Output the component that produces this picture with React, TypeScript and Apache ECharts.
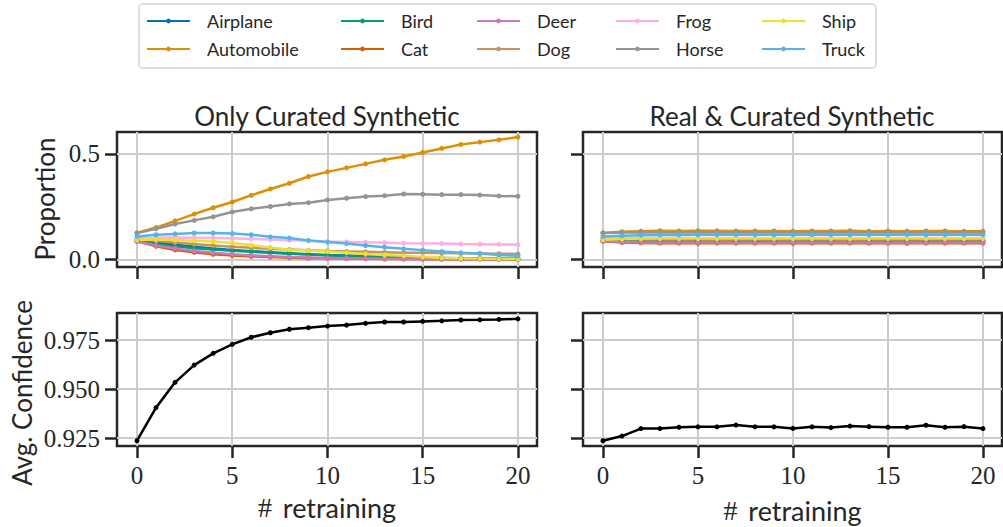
import React, { useEffect, useRef } from "react";
import * as echarts from "echarts";

// ---------- data ----------
const retraining = [0, 1, 2, 3, 4, 5, 6, 7, 8, 9, 10, 11, 12, 13, 14, 15, 16, 17, 18, 19, 20];
const xTicks = [0, 5, 10, 15, 20];
const propTicks = [0, 0.5];
const confTicks = [0.925, 0.95, 0.975];

const classNames = ["Airplane", "Automobile", "Bird", "Cat", "Deer", "Dog", "Frog", "Horse", "Ship", "Truck"];
const classColors = ["#0173b2", "#de8f05", "#029e73", "#d55e00", "#cc78bc", "#ca9161", "#fbafe4", "#949494", "#ece133", "#56b4e9"];

// Only Curated Synthetic: class proportions
const onlyAirplane = [0.093, 0.080, 0.069, 0.060, 0.052, 0.045, 0.039, 0.034, 0.029, 0.025, 0.021, 0.018, 0.015, 0.012, 0.010, 0.008, 0.007, 0.006, 0.005, 0.004, 0.003];
const onlyAutomobile = [0.125, 0.151, 0.183, 0.215, 0.245, 0.272, 0.304, 0.334, 0.361, 0.393, 0.415, 0.434, 0.453, 0.472, 0.488, 0.507, 0.526, 0.545, 0.556, 0.567, 0.580];
const onlyBird = [0.090, 0.073, 0.062, 0.053, 0.047, 0.041, 0.036, 0.031, 0.027, 0.023, 0.019, 0.016, 0.013, 0.011, 0.009, 0.007, 0.006, 0.005, 0.004, 0.003, 0.002];
const onlyCat = [0.086, 0.062, 0.045, 0.034, 0.024, 0.018, 0.014, 0.011, 0.008, 0.006, 0.005, 0.004, 0.003, 0.002, 0.002, 0.001, 0.001, 0.001, 0.001, 0.000, 0.000];
const onlyDeer = [0.086, 0.066, 0.052, 0.040, 0.031, 0.024, 0.019, 0.015, 0.011, 0.009, 0.007, 0.005, 0.004, 0.003, 0.003, 0.002, 0.002, 0.001, 0.001, 0.001, 0.001];
const onlyDog = [0.097, 0.088, 0.080, 0.073, 0.066, 0.060, 0.055, 0.051, 0.047, 0.043, 0.040, 0.038, 0.036, 0.034, 0.032, 0.031, 0.030, 0.029, 0.028, 0.027, 0.026];
const onlyFrog = [0.100, 0.103, 0.104, 0.103, 0.102, 0.100, 0.097, 0.094, 0.091, 0.088, 0.085, 0.083, 0.081, 0.079, 0.077, 0.076, 0.075, 0.073, 0.072, 0.071, 0.070];
const onlyHorse = [0.125, 0.145, 0.168, 0.185, 0.202, 0.225, 0.240, 0.251, 0.263, 0.269, 0.282, 0.290, 0.298, 0.302, 0.310, 0.309, 0.307, 0.307, 0.305, 0.301, 0.299];
const onlyShip = [0.093, 0.094, 0.092, 0.089, 0.085, 0.078, 0.067, 0.057, 0.046, 0.042, 0.037, 0.032, 0.026, 0.021, 0.017, 0.012, 0.007, 0.005, 0.004, 0.003, 0.002];
const onlyTruck = [0.109, 0.117, 0.121, 0.125, 0.125, 0.123, 0.117, 0.107, 0.101, 0.090, 0.082, 0.075, 0.066, 0.058, 0.050, 0.044, 0.037, 0.031, 0.028, 0.021, 0.017];

// Real & Curated Synthetic: class proportions
const realAirplane = [0.093, 0.090, 0.089, 0.089, 0.089, 0.089, 0.088, 0.089, 0.089, 0.089, 0.088, 0.089, 0.089, 0.088, 0.089, 0.089, 0.089, 0.088, 0.089, 0.089, 0.089];
const realAutomobile = [0.125, 0.131, 0.134, 0.136, 0.135, 0.136, 0.136, 0.135, 0.135, 0.135, 0.134, 0.135, 0.135, 0.136, 0.134, 0.135, 0.134, 0.135, 0.135, 0.134, 0.134];
const realBird = [0.090, 0.088, 0.087, 0.087, 0.087, 0.087, 0.087, 0.087, 0.086, 0.087, 0.087, 0.087, 0.087, 0.087, 0.087, 0.086, 0.087, 0.087, 0.087, 0.087, 0.087];
const realCat = [0.086, 0.080, 0.078, 0.077, 0.077, 0.076, 0.077, 0.077, 0.077, 0.077, 0.076, 0.077, 0.077, 0.077, 0.077, 0.077, 0.076, 0.077, 0.077, 0.077, 0.077];
const realDeer = [0.086, 0.082, 0.080, 0.080, 0.080, 0.080, 0.080, 0.080, 0.079, 0.080, 0.080, 0.080, 0.080, 0.080, 0.080, 0.080, 0.080, 0.079, 0.080, 0.080, 0.080];
const realDog = [0.097, 0.095, 0.094, 0.094, 0.094, 0.094, 0.093, 0.094, 0.094, 0.094, 0.094, 0.094, 0.094, 0.093, 0.094, 0.094, 0.094, 0.094, 0.094, 0.094, 0.094];
const realFrog = [0.100, 0.100, 0.101, 0.101, 0.101, 0.101, 0.101, 0.101, 0.101, 0.101, 0.101, 0.101, 0.101, 0.101, 0.101, 0.101, 0.101, 0.101, 0.101, 0.101, 0.101];
const realHorse = [0.125, 0.127, 0.128, 0.128, 0.127, 0.128, 0.128, 0.128, 0.128, 0.128, 0.128, 0.128, 0.128, 0.128, 0.128, 0.127, 0.128, 0.128, 0.128, 0.128, 0.128];
const realShip = [0.093, 0.097, 0.099, 0.100, 0.100, 0.100, 0.100, 0.100, 0.100, 0.100, 0.100, 0.100, 0.100, 0.100, 0.100, 0.100, 0.100, 0.100, 0.100, 0.100, 0.100];
const realTruck = [0.109, 0.112, 0.115, 0.116, 0.116, 0.117, 0.117, 0.118, 0.117, 0.117, 0.117, 0.118, 0.117, 0.117, 0.117, 0.117, 0.118, 0.117, 0.117, 0.117, 0.117];

// Avg. confidence
const onlyConfidence = [0.9236, 0.9405, 0.9534, 0.9622, 0.9682, 0.9728, 0.9764, 0.9787, 0.9805, 0.9813, 0.9821, 0.9826, 0.9835, 0.9842, 0.9842, 0.9845, 0.9848, 0.9852, 0.9853, 0.9855, 0.9858];
const realConfidence = [0.9236, 0.9260, 0.9298, 0.9298, 0.9305, 0.9307, 0.9307, 0.9316, 0.9307, 0.9307, 0.9299, 0.9307, 0.9303, 0.9311, 0.9308, 0.9305, 0.9305, 0.9315, 0.9305, 0.9308, 0.9298];

const onlyProportions = [onlyAirplane, onlyAutomobile, onlyBird, onlyCat, onlyDeer, onlyDog, onlyFrog, onlyHorse, onlyShip, onlyTruck];
const realProportions = [realAirplane, realAutomobile, realBird, realCat, realDeer, realDog, realFrog, realHorse, realShip, realTruck];

const panelTitles = ["Only Curated Synthetic", "Real & Curated Synthetic"];

// ---------- styling ----------
const SANS = "Lato, 'Open Sans', sans-serif";
const SERIF = "'Liberation Serif', 'DejaVu Serif', serif";
const DARK = "#262626";
const GRIDC = "#cccccc";

function toPairs(vals: number[]) {
  return retraining.map((x, i) => [x, vals[i]]);
}

export default function App() {
  const ref = useRef<HTMLDivElement>(null);

  useEffect(() => {
    if (!ref.current) return;
    const chart = echarts.init(ref.current, null, { renderer: "svg" });

    const grids = [
      { left: 117, top: 132, width: 420, height: 135 },
      { left: 583, top: 132, width: 419, height: 135 },
      { left: 117, top: 313, width: 420, height: 133 },
      { left: 583, top: 313, width: 419, height: 133 },
    ].map((g) => ({ ...g, show: true, borderColor: DARK, borderWidth: 2.5, backgroundColor: "transparent", containLabel: false }));

    const xAxes = [0, 1, 2, 3].map((i) => ({
      type: "value",
      gridIndex: i,
      position: "bottom",
      min: -1.05,
      max: 21.0,
      axisLine: { show: false, onZero: false },
      axisTick: { show: true, inside: false, length: 12, customValues: xTicks, lineStyle: { color: DARK, width: 2.5 } },
      axisLabel: {
        show: i >= 2,
        customValues: xTicks,
        margin: 17,
        fontFamily: SERIF,
        fontSize: 25,
        color: DARK,
      },
      splitLine: { show: true, lineStyle: { color: GRIDC, width: 2 } },
      name: i >= 2 ? "{h|#}{t|retraining}" : "",
      nameLocation: "middle",
      nameGap: i === 2 ? 47 : 50,
      nameTextStyle: {
        rich: {
          h: { fontFamily: SERIF, fontSize: 28, color: DARK, padding: [0, 11, 0, 0] },
          t: { fontFamily: SANS, fontSize: 27, color: DARK },
        },
      },
    }));

    const yAxes = [0, 1, 2, 3].map((i) => {
      const isProp = i < 2;
      const ticks = isProp ? propTicks : confTicks;
      return {
        type: "value",
        gridIndex: i,
        position: "left",
        min: isProp ? -0.036 : 0.92092,
        max: isProp ? 0.604 : 0.98878,
        axisLine: { show: false, onZero: false },
        axisTick: { show: true, inside: false, length: 12, customValues: ticks, lineStyle: { color: DARK, width: 2.5 } },
        axisLabel: {
          show: i % 2 === 0,
          customValues: ticks,
          margin: 17,
          fontFamily: SERIF,
          fontSize: 25,
          color: DARK,
          formatter: (v: number) => (isProp ? v.toFixed(1) : v.toFixed(3)),
        },
        splitLine: { show: true, lineStyle: { color: GRIDC, width: 2 } },
      };
    });

    const series: any[] = [];
    classNames.forEach((name, c) => {
      [onlyProportions, realProportions].forEach((set, p) => {
        series.push({
          type: "line",
          name,
          xAxisIndex: p,
          yAxisIndex: p,
          data: toPairs(set[c]),
          symbol: "circle",
          symbolSize: 5,
          showSymbol: true,
          lineStyle: { color: classColors[c], width: 2.5 },
          itemStyle: { color: classColors[c] },
          emphasis: { disabled: true },
        });
      });
    });
    [onlyConfidence, realConfidence].forEach((vals, p) => {
      series.push({
        type: "line",
        name: "Avg. Confidence",
        xAxisIndex: 2 + p,
        yAxisIndex: 2 + p,
        data: toPairs(vals),
        symbol: "circle",
        symbolSize: 5,
        lineStyle: { color: "#000000", width: 2.5 },
        itemStyle: { color: "#000000" },
        emphasis: { disabled: true },
      });
    });

    const legendLefts = [146, 340, 476, 615, 761];
    const legends = legendLefts.map((left, k) => ({
      orient: "vertical",
      left,
      top: 12,
      padding: 0,
      itemWidth: 43,
      itemHeight: 6,
      itemGap: 10,
      selectedMode: false,
      data: [classNames[k * 2], classNames[k * 2 + 1]],
      textStyle: { fontFamily: SANS, fontSize: 18, color: DARK, padding: [0, 0, 0, 12] },
    }));

    const option = {
      animation: false,
      backgroundColor: "#ffffff",
      grid: grids,
      xAxis: xAxes,
      yAxis: yAxes,
      legend: legends,
      series,
      graphic: [
        {
          type: "rect",
          z: 0,
          shape: { x: 139, y: 4, width: 737, height: 64, r: 4 },
          style: { fill: "none", stroke: "#d4d4d4", lineWidth: 1.5 },
        },
        {
          type: "text",
          x: 327,
          y: 116,
          style: { text: panelTitles[0], font: `26px ${SANS}`, fill: DARK, align: "center", verticalAlign: "middle" },
        },
        {
          type: "text",
          x: 792,
          y: 116,
          style: { text: panelTitles[1], font: `26px ${SANS}`, fill: DARK, align: "center", verticalAlign: "middle" },
        },
        {
          type: "text",
          x: 45,
          y: 199,
          rotation: Math.PI / 2,
          style: { text: "Proportion", font: `26px ${SANS}`, fill: DARK, align: "center", verticalAlign: "middle" },
        },
        {
          type: "text",
          x: 22,
          y: 393,
          rotation: Math.PI / 2,
          style: { text: "Avg. Confidence", font: `26px ${SANS}`, fill: DARK, align: "center", verticalAlign: "middle" },
        },
      ],
    };

    chart.setOption(option as any);
    return () => chart.dispose();
  }, []);

  return (
    <div
      ref={ref}
      style={{ position: "absolute", left: 0, top: 0, width: 1003, height: 527 }}
    />
  );
}
